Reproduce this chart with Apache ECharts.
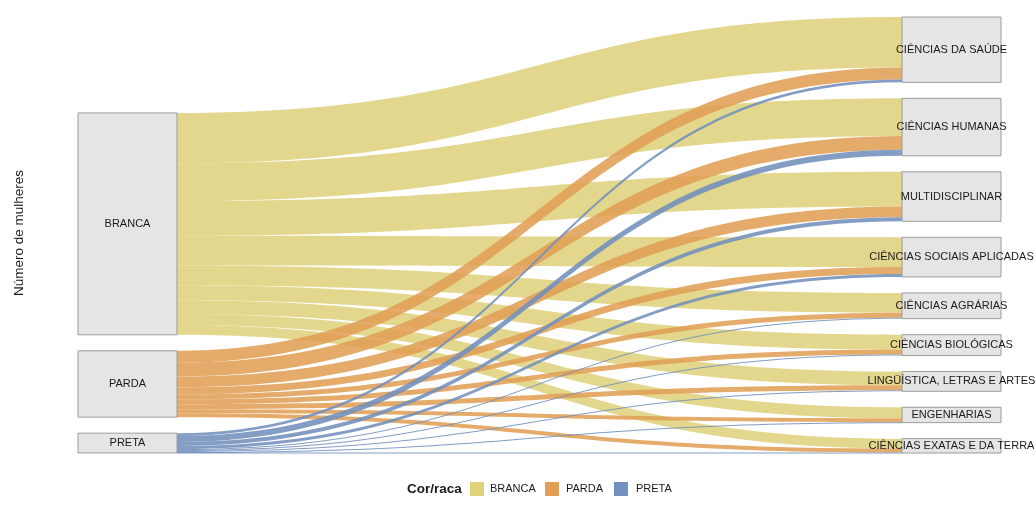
<!DOCTYPE html>
<html>
<head>
<meta charset="utf-8">
<script src="https://cdn.jsdelivr.net/npm/echarts@6/dist/echarts.min.js"></script>
<style>
  html, body { margin: 0; padding: 0; background: #ffffff; }
  #chart { width: 1035px; height: 514px; }
</style>
</head>
<body>
<div id="chart"></div>
<script>
// ---- data ----
const races = ['BRANCA', 'PARDA', 'PRETA'];
const areas = [
  'CIÊNCIAS DA SAÚDE',
  'CIÊNCIAS HUMANAS',
  'MULTIDISCIPLINAR',
  'CIÊNCIAS SOCIAIS APLICADAS',
  'CIÊNCIAS AGRÁRIAS',
  'CIÊNCIAS BIOLÓGICAS',
  'LINGÜÍSTICA, LETRAS E ARTES',
  'ENGENHARIAS',
  'CIÊNCIAS EXATAS E DA TERRA'
];
const brancaValues = [510, 380, 350, 300, 200, 150, 140, 110, 100];
const pardaValues  = [120, 140, 110,  70,  50,  50,  50,  40,  40];
const pretaValues  = [ 30,  60,  40,  30,  10,  10,  10,   5,   5];
const raceColors = ['#DED27C', '#E09F55', '#7290BD'];
const axisTitle = 'Número de mulheres';
const legendTitle = 'Cor/raca';

// ---- build ----
const valuesByRace = [brancaValues, pardaValues, pretaValues];
const chartW = 1035, chartH = 514;
const padTop = 17, padBottom = 61, padLeft = 78, padRight = 34;
const gap = 16;
const plotH = chartH - padTop - padBottom;
let total = 0;
valuesByRace.forEach(a => a.forEach(v => total += v));
const ky = (plotH - (areas.length - 1) * gap) / total;
// invisible spacer so the left column sits on the same baseline as the right one
const spacerValue = ((areas.length - 1 - races.length) * gap) / ky * 0.9995;

const font = "'Liberation Sans', Arial, sans-serif";
const nodeStyle = { color: '#e5e5e5', borderColor: '#9c9c9c', borderWidth: 1 };
const nodes = [];
nodes.push({
  name: '__spacer', value: spacerValue, depth: 0,
  itemStyle: { opacity: 0, borderWidth: 0 }, label: { show: false }
});
races.forEach(r => nodes.push({ name: r, depth: 0, itemStyle: nodeStyle }));
areas.forEach(a => nodes.push({ name: a, depth: 1, itemStyle: nodeStyle }));

const links = [];
races.forEach((r, ri) => {
  areas.forEach((a, ai) => {
    links.push({
      source: r, target: a, value: valuesByRace[ri][ai],
      lineStyle: { color: raceColors[ri], opacity: 0.88 }
    });
  });
});

const chart = echarts.init(document.getElementById('chart'), null, { renderer: 'canvas', width: chartW, height: chartH });

const legendItems = [];
const legendY = 489;
legendItems.push({
  type: 'text', x: 407, y: legendY,
  style: { text: legendTitle, font: 'bold 13.5px ' + font, fill: '#1a1a1a', verticalAlign: 'middle', align: 'left' }
});
const swX = [470, 545, 614];
const txX = [490, 566, 636];
races.forEach((r, i) => {
  legendItems.push({
    type: 'rect', shape: { x: swX[i], y: legendY - 7, width: 14, height: 14 },
    style: { fill: raceColors[i] }
  });
  legendItems.push({
    type: 'text', x: txX[i], y: legendY,
    style: { text: r, font: '11px ' + font, fill: '#1a1a1a', verticalAlign: 'middle', align: 'left' }
  });
});

chart.setOption({
  animation: false,
  backgroundColor: '#ffffff',
  series: [{
    type: 'sankey',
    left: padLeft, right: padRight, top: padTop, bottom: padBottom,
    nodeWidth: 99,
    nodeGap: gap,
    layoutIterations: 0,
    nodeAlign: 'justify',
    draggable: false,
    emphasis: { disabled: true },
    label: {
      show: true, position: 'inside', color: '#1a1a1a',
      fontSize: 11, fontFamily: font
    },
    lineStyle: { curveness: 0.5 },
    data: nodes,
    links: links
  }],
  graphic: [
    {
      type: 'text', x: 19, y: 233, rotation: Math.PI / 2,
      style: { text: axisTitle, font: '13.5px ' + font, fill: '#1a1a1a', align: 'center', verticalAlign: 'middle' }
    }
  ].concat(legendItems)
});
</script>
</body>
</html>
